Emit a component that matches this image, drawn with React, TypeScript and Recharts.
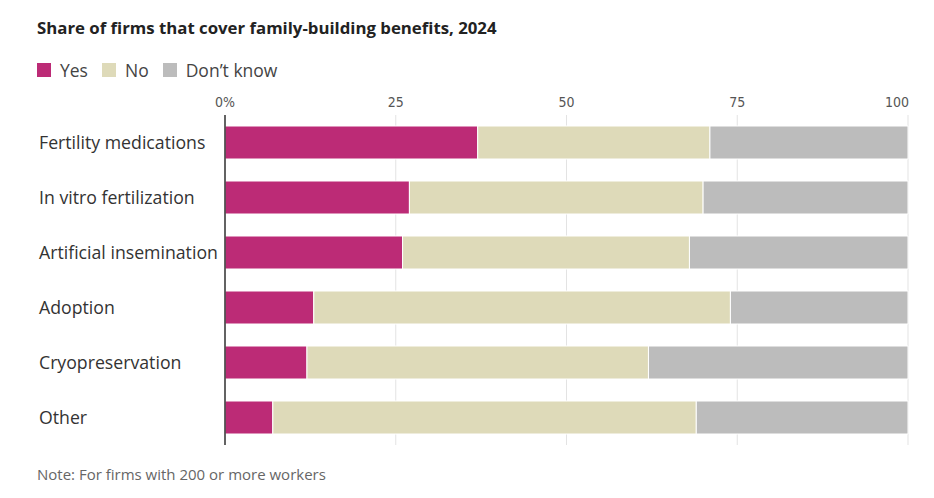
import { Bar, BarChart, CartesianGrid, ReferenceLine, XAxis, YAxis } from "recharts";

const categories = [
  "Fertility medications",
  "In vitro fertilization",
  "Artificial insemination",
  "Adoption",
  "Cryopreservation",
  "Other",
];
const yes = [37, 27, 26, 13, 12, 7];
const no = [34, 43, 42, 61, 50, 62];
const dontKnow = [29, 30, 32, 26, 38, 31];
const xTicks = [0, 25, 50, 75, 100];

const data = categories.map((name, i) => ({
  name,
  yes: yes[i],
  no: no[i],
  dk: dontKnow[i],
}));

const FONT = "'Open Sans', Lato, sans-serif";
const NARROW = "'Liberation Sans Narrow', 'DejaVu Sans Condensed', sans-serif";

const XTick = (props: any) => {
  const { x, payload } = props;
  const v = payload.value;
  const last = v === 100;
  return (
    <text
      x={last ? x + 1 : x}
      y={107}
      textAnchor={last ? "end" : "middle"}
      fontFamily={NARROW}
      fontSize={14}
      fill="#555"
    >
      {v === 0 ? "0%" : v}
    </text>
  );
};

const YTick = (props: any) => {
  const { y, payload } = props;
  return (
    <text x={39} y={y} dy={6} textAnchor="start" fontFamily={FONT} fontSize={17.7} fill="#333">
      {payload.value}
    </text>
  );
};

const legend = [
  { label: "Yes", color: "#bc2b76" },
  { label: "No", color: "#dedab9" },
  { label: "Don’t know", color: "#bcbcbc" },
];

export default function App() {
  return (
    <div
      style={{
        position: "absolute",
        left: 0,
        top: 0,
        width: 934,
        height: 498,
        background: "#fff",
        fontFamily: FONT,
      }}
    >
      <div style={{ position: "absolute", left: 37, top: 16, fontSize: 16.8, fontWeight: 700, color: "#222" }}>
        Share of firms that cover family-building benefits, 2024
      </div>
      <div style={{ position: "absolute", left: 37, top: 58, display: "flex", alignItems: "center", fontSize: 17.5, color: "#444" }}>
        {legend.map((l) => (
          <div key={l.label} style={{ display: "flex", alignItems: "center", marginRight: 14 }}>
            <span style={{ width: 14, height: 14, background: l.color, display: "inline-block", marginRight: 9 }} />
            <span>{l.label}</span>
          </div>
        ))}
      </div>
      <div style={{ position: "absolute", left: 0, top: 0 }}>
        <BarChart
          width={934}
          height={498}
          data={data}
          layout="vertical"
          margin={{ top: 95, right: 26, bottom: 53, left: 0 }}
          barCategoryGap={11}
        >
          <CartesianGrid horizontal={false} stroke="#e3e3e3" />
          <XAxis
            type="number"
            orientation="top"
            domain={[0, 100]}
            ticks={xTicks}
            axisLine={false}
            tickLine={false}
            tick={<XTick />}
            height={20}
          />
          <YAxis
            type="category"
            dataKey="name"
            width={225}
            axisLine={false}
            tickLine={false}
            tick={<YTick />}
          />
          <Bar dataKey="yes" stackId="a" fill="#bc2b76" stroke="#fff" strokeWidth={1} isAnimationActive={false} />
          <Bar dataKey="no" stackId="a" fill="#dedab9" stroke="#fff" strokeWidth={1} isAnimationActive={false} />
          <Bar dataKey="dk" stackId="a" fill="#bcbcbc" stroke="#fff" strokeWidth={1} isAnimationActive={false} />
          <ReferenceLine x={0} stroke="#333" strokeWidth={1.5} />
        </BarChart>
      </div>
      <div style={{ position: "absolute", left: 37, top: 464, fontSize: 15, color: "#666" }}>
        Note: For firms with 200 or more workers
      </div>
    </div>
  );
}
